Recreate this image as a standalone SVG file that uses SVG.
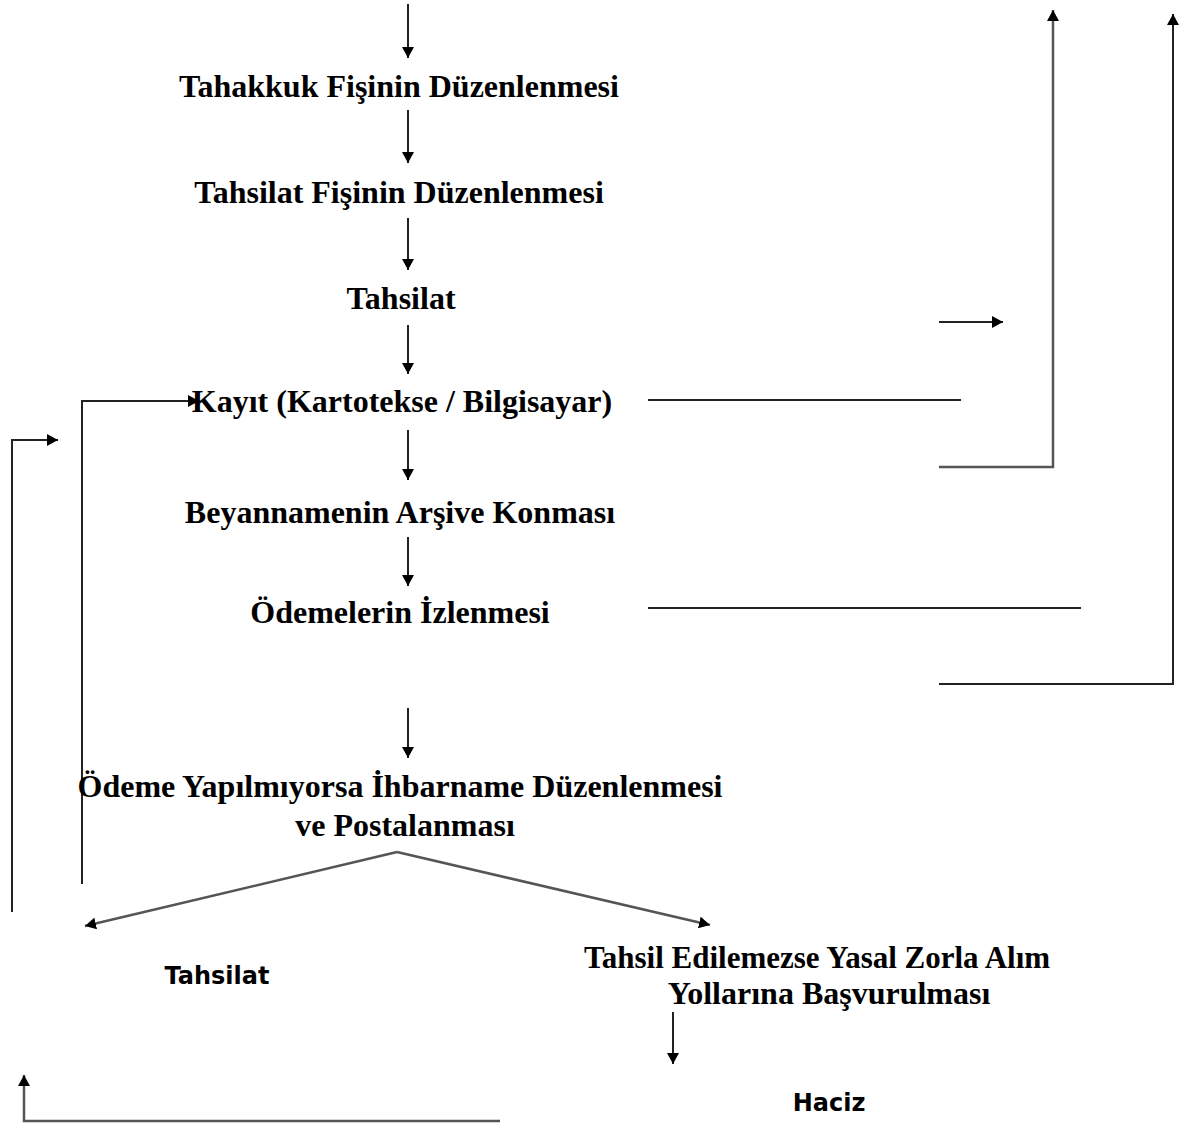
<svg xmlns="http://www.w3.org/2000/svg" width="1180" height="1127" viewBox="0 0 1180 1127">
<style>
.t{font-family:"Liberation Serif","Times New Roman",serif;font-weight:bold;font-size:32px;fill:#000;text-anchor:middle}
.s{font-family:"DejaVu Sans",Verdana,sans-serif;font-weight:bold;font-size:24px;fill:#000;text-anchor:middle}
.c{stroke:#222;stroke-width:2;fill:none}
.g{stroke:#555;stroke-width:2.5;fill:none}
.a{marker-end:url(#ah)}
</style>
<defs>
<marker id="ah" markerUnits="userSpaceOnUse" markerWidth="12" markerHeight="12" refX="11" refY="6" orient="auto">
<path d="M0,0 L11,6 L0,12 z" fill="#000"/>
</marker>
</defs>
<rect width="1180" height="1127" fill="#fff"/>
<g id="connectors">
<line class="c a" x1="408" y1="4" x2="408" y2="58"/>
<line class="c a" x1="408" y1="110" x2="408" y2="163"/>
<line class="c a" x1="408" y1="218" x2="408" y2="270"/>
<line class="c a" x1="408" y1="325" x2="408" y2="374"/>
<line class="c a" x1="408" y1="430" x2="408" y2="480"/>
<line class="c a" x1="408" y1="537" x2="408" y2="586"/>
<line class="c a" x1="408" y1="708" x2="408" y2="758"/>
<polyline class="c a" points="82,884 82,401 199,401"/>
<polyline class="c a" points="12,912 12,440 58,440"/>
<polyline class="g a" points="500,1121 24,1121 24,1075"/>
<line class="c" x1="648" y1="400" x2="961" y2="400"/>
<line class="c a" x1="939" y1="322" x2="1003" y2="322"/>
<polyline class="g a" points="939,467 1053,467 1053,10"/>
<line class="c" x1="648" y1="608" x2="1081" y2="608"/>
<polyline class="c a" points="939,684 1173,684 1173,14"/>
<polyline class="g a" points="397,852 85,926"/>
<polyline class="g a" points="397,852 710,925"/>
<line class="c a" x1="673" y1="1012" x2="673" y2="1064"/>
</g>
<g id="n1"><text class="t" x="399" y="97">Tahakkuk Fişinin Düzenlenmesi</text></g>
<g id="n2"><text class="t" x="399" y="203">Tahsilat Fişinin Düzenlenmesi</text></g>
<g id="n3"><text class="t" x="401" y="309">Tahsilat</text></g>
<g id="n4"><text class="t" x="402" y="412">Kayıt (Kartotekse / Bilgisayar)</text></g>
<g id="n5"><text class="t" x="400" y="523">Beyannamenin Arşive Konması</text></g>
<g id="n6"><text class="t" x="400" y="623">Ödemelerin İzlenmesi</text></g>
<g id="n7"><text class="t" x="400" y="797">Ödeme Yapılmıyorsa İhbarname Düzenlenmesi</text><text class="t" x="405" y="836">ve Postalanması</text></g>
<g id="n8"><text class="s" x="217" y="984">Tahsilat</text></g>
<g id="n9"><text class="t" x="817" y="968" style="font-size:31px">Tahsil Edilemezse Yasal Zorla Alım</text><text class="t" x="829" y="1004">Yollarına Başvurulması</text></g>
<g id="n10"><text class="s" x="829" y="1111">Haciz</text></g>
</svg>
